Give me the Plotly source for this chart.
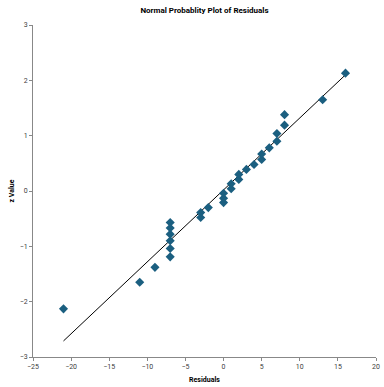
import plotly.graph_objects as go

residuals = [-21, -11, -9, -7, -7, -7, -7, -7, -7, -3, -3, -2, 0, 0, 0,
             1, 1, 2, 2, 3, 4, 5, 5, 6, 7, 7, 8, 8, 13, 16]
z_values = [-2.13, -1.65, -1.38, -1.19, -1.04, -0.90, -0.78, -0.67, -0.57, -0.48, -0.39, -0.30, -0.21, -0.13, -0.04,
            0.04, 0.13, 0.21, 0.30, 0.39, 0.48, 0.57, 0.67, 0.78, 0.90, 1.04, 1.19, 1.38, 1.65, 2.13]
line_x = [-21, 16]
line_y = [-2.71, 2.10]

x_ticks = [-25, -20, -15, -10, -5, 0, 5, 10, 15, 20]
y_ticks = [-3, -2, -1, 0, 1, 2, 3]

FONT = "Liberation Sans Narrow, Roboto, Arial"

fig = go.Figure()
fig.add_trace(go.Scatter(x=line_x, y=line_y, mode="lines",
                         line=dict(color="black", width=1), hoverinfo="skip"))
fig.add_trace(go.Scatter(x=residuals, y=z_values, mode="markers",
                         marker=dict(symbol="diamond", size=7, color="#1b5f80",
                                     line=dict(width=0))))

fig.update_layout(
    width=384, height=387,
    margin=dict(l=33, r=8, t=25, b=30),
    paper_bgcolor="white", plot_bgcolor="white",
    showlegend=False,
    font=dict(family=FONT, size=7, color="#404040"),
    title=dict(text="<b>Normal Probablity Plot of Residuals</b>", x=0.5, xanchor="center",
               xref="paper",
               y=1 - 10 / 387, yanchor="middle", font=dict(family=FONT, size=8, color="black")),
    xaxis=dict(range=[-25, 20], tickvals=x_ticks, showgrid=False, zeroline=False,
               showline=True, linecolor="#888888", linewidth=1, automargin=False,
               ticks="outside", ticklen=3, tickcolor="#888888",
               tickfont=dict(size=7, color="#404040"),
               title=dict(text="<b>Residuals</b>", font=dict(size=7, color="black"), standoff=6)),
    yaxis=dict(range=[-3, 3], tickvals=y_ticks, showgrid=False, zeroline=False,
               showline=True, linecolor="#888888", linewidth=1, automargin=False,
               ticks="outside", ticklen=3, tickcolor="#888888",
               tickfont=dict(size=7, color="#404040"),
               title=dict(text="<b>z Value</b>", font=dict(size=7, color="black"), standoff=4)),
)

# remove the default 8px page margin so the figure fills the window exactly
fig.write_html("out.html", config={"displayModeBar": False},
               post_script="document.body.style.margin='0px';")
